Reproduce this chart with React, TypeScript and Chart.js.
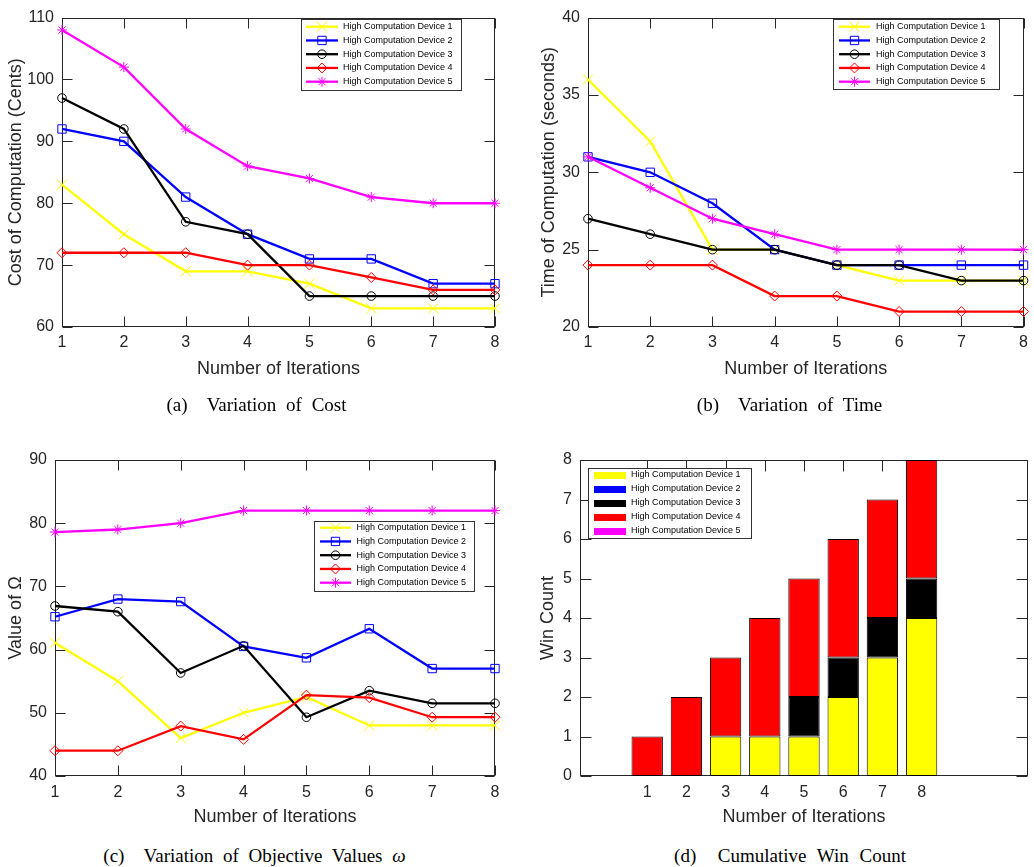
import React, { useEffect, useRef } from 'react';
import { Chart, registerables } from 'chart.js';

Chart.register(...registerables);

// ---------------- DATA ----------------
const ITERATIONS = ['1', '2', '3', '4', '5', '6', '7', '8'];
const DEVICE_NAMES = [
  'High Computation Device 1',
  'High Computation Device 2',
  'High Computation Device 3',
  'High Computation Device 4',
  'High Computation Device 5',
];

// (a) Cost of computation (Cents)
const COST_D1 = [83, 75, 69, 69, 67, 63, 63, 63];
const COST_D2 = [92, 90, 81, 75, 71, 71, 67, 67];
const COST_D3 = [97, 92, 77, 75, 65, 65, 65, 65];
const COST_D4 = [72, 72, 72, 70, 70, 68, 66, 66];
const COST_D5 = [108, 102, 92, 86, 84, 81, 80, 80];
const COST_TICKS = [60, 70, 80, 90, 100, 110];

// (b) Time of computation (seconds)
const TIME_D1 = [36, 32, 25, 25, 24, 23, 23, 23];
const TIME_D2 = [31, 30, 28, 25, 24, 24, 24, 24];
const TIME_D3 = [27, 26, 25, 25, 24, 24, 23, 23];
const TIME_D4 = [24, 24, 24, 22, 22, 21, 21, 21];
const TIME_D5 = [31, 29, 27, 26, 25, 25, 25, 25];
const TIME_TICKS = [20, 25, 30, 35, 40];

// (c) Value of Omega
const OMEGA_D1 = [61.1, 55.0, 46.0, 50.0, 52.5, 48.0, 48.0, 48.0];
const OMEGA_D2 = [65.2, 68.0, 67.6, 60.5, 58.7, 63.3, 57.0, 57.0];
const OMEGA_D3 = [66.9, 66.0, 56.3, 60.6, 49.3, 53.5, 51.5, 51.5];
const OMEGA_D4 = [44.0, 44.0, 47.9, 45.8, 52.8, 52.4, 49.3, 49.3];
const OMEGA_D5 = [78.6, 79.0, 80.0, 82.0, 82.0, 82.0, 82.0, 82.0];
const OMEGA_TICKS = [40, 50, 60, 70, 80, 90];

// (d) Cumulative win count (stacked)
const WIN_X = [1, 2, 3, 4, 5, 6, 7, 8];
const WIN_D1 = [0, 0, 1, 1, 1, 2, 3, 4];
const WIN_D2 = [0, 0, 0, 0, 0, 0, 0, 0];
const WIN_D3 = [0, 0, 0, 0, 1, 1, 1, 1];
const WIN_D4 = [1, 2, 2, 3, 3, 3, 3, 3];
const WIN_D5 = [0, 0, 0, 0, 0, 0, 0, 0];
const WIN_TICKS = [0, 1, 2, 3, 4, 5, 6, 7, 8];
const WIN_X_MIN = 0;
const WIN_X_MAX = 10;

// ---------------- STYLE ----------------
const COLORS = ['#ffff00', '#0000ff', '#000000', '#ff0000', '#ff00ff'];
const MARKERS = ['crossRot', 'rect', 'circle', 'rectRot', 'star'];
const MARKER_R = [7, 5.9, 4.3, 5, 5];
const AXIS_COLOR = '#262626';
const SANS = '"Liberation Sans", Arial, Helvetica, sans-serif';
const SERIF = '"Liberation Serif", "Times New Roman", serif';

function drawMarker(ctx: CanvasRenderingContext2D, style: string, x: number, y: number, r: number) {
  const s = r * Math.SQRT1_2;
  ctx.beginPath();
  switch (style) {
    case 'circle':
      ctx.arc(x, y, r, 0, Math.PI * 2);
      break;
    case 'rect':
      ctx.rect(x - s, y - s, 2 * s, 2 * s);
      break;
    case 'rectRot':
      ctx.moveTo(x - r, y);
      ctx.lineTo(x, y - r);
      ctx.lineTo(x + r, y);
      ctx.lineTo(x, y + r);
      ctx.closePath();
      break;
    case 'crossRot':
      ctx.moveTo(x - s, y - s);
      ctx.lineTo(x + s, y + s);
      ctx.moveTo(x - s, y + s);
      ctx.lineTo(x + s, y - s);
      break;
    case 'star':
      ctx.moveTo(x - r, y);
      ctx.lineTo(x + r, y);
      ctx.moveTo(x, y - r);
      ctx.lineTo(x, y + r);
      ctx.moveTo(x - s, y - s);
      ctx.lineTo(x + s, y + s);
      ctx.moveTo(x - s, y + s);
      ctx.lineTo(x + s, y - s);
      break;
  }
  ctx.stroke();
}

// Matlab-like box with inward ticks on all four sides
function makeAxesPlugin(tickLen: number) {
  return {
    id: 'matlabAxes',
    beforeDatasetsDraw(chart: any) {
      const { ctx, chartArea } = chart;
      const { left, right, top, bottom } = chartArea;
      const L = Math.round(left) + 0.5;
      const R = Math.round(right) - 0.5;
      const T = Math.round(top) + 0.5;
      const B = Math.round(bottom) - 0.5;
      ctx.save();
      ctx.strokeStyle = AXIS_COLOR;
      ctx.lineWidth = 1;
      ctx.beginPath();
      const xs = chart.scales.x;
      xs.ticks.forEach((_t: any, i: number) => {
        const px = Math.round(xs.getPixelForTick(i)) + 0.5;
        ctx.moveTo(px, B);
        ctx.lineTo(px, B - tickLen);
        ctx.moveTo(px, T);
        ctx.lineTo(px, T + tickLen);
      });
      const ys = chart.scales.y;
      ys.ticks.forEach((_t: any, i: number) => {
        const py = Math.round(ys.getPixelForTick(i)) + 0.5;
        ctx.moveTo(L, py);
        ctx.lineTo(L + tickLen, py);
        ctx.moveTo(R, py);
        ctx.lineTo(R - tickLen, py);
      });
      ctx.stroke();
      ctx.strokeRect(L, T, R - L, B - T);
      ctx.restore();
    },
  };
}

interface LegendSpec {
  x: number; y: number; w: number; h: number;
  row0: number; rowStep: number;
  s1: number; s2: number; textX: number;
  patch: boolean;
}

function makeLegendPlugin(spec: LegendSpec) {
  return {
    id: 'matlabLegend',
    afterDraw(chart: any) {
      const ctx: CanvasRenderingContext2D = chart.ctx;
      ctx.save();
      ctx.fillStyle = '#ffffff';
      ctx.fillRect(spec.x, spec.y, spec.w, spec.h);
      ctx.strokeStyle = '#333333';
      ctx.lineWidth = 1;
      ctx.strokeRect(Math.round(spec.x) + 0.5, Math.round(spec.y) + 0.5, Math.round(spec.w), Math.round(spec.h));
      ctx.font = `9px ${SANS}`;
      ctx.textBaseline = 'middle';
      ctx.textAlign = 'left';
      DEVICE_NAMES.forEach((name, i) => {
        const cy = spec.row0 + i * spec.rowStep;
        if (spec.patch) {
          ctx.fillStyle = COLORS[i];
          ctx.fillRect(spec.s1, Math.round(cy - 3.5), spec.s2 - spec.s1, 7);
        } else {
          ctx.strokeStyle = COLORS[i];
          ctx.lineWidth = 2.3;
          ctx.beginPath();
          ctx.moveTo(spec.s1, cy);
          ctx.lineTo(spec.s2, cy);
          ctx.stroke();
          ctx.lineWidth = 1;
          drawMarker(ctx, MARKERS[i], (spec.s1 + spec.s2) / 2, cy, MARKER_R[i]);
        }
        ctx.fillStyle = '#000000';
        ctx.fillText(name, spec.textX, cy);
      });
      ctx.restore();
    },
  };
}

interface Geometry {
  width: number; height: number;
  padTop: number; padRight: number;
  yAxisW: number; xAxisH: number;
  yTitlePad: number; xTitlePad: number;
  xTickPad: number;
}

function commonScales(g: Geometry, yTitle: string, yTicks: number[]) {
  return {
    y: {
      type: 'linear',
      min: yTicks[0],
      max: yTicks[yTicks.length - 1],
      stacked: false,
      afterBuildTicks: (s: any) => {
        s.ticks = yTicks.map((v) => ({ value: v }));
      },
      afterFit: (s: any) => {
        s.width = g.yAxisW;
      },
      grid: { display: false, drawTicks: false },
      border: { display: false },
      ticks: { padding: 8, color: AXIS_COLOR, font: { family: SANS, size: 16 } },
      title: {
        display: true,
        text: yTitle,
        color: AXIS_COLOR,
        font: { family: SANS, size: 18 },
        padding: { top: g.yTitlePad, bottom: 0 },
      },
    },
  };
}

function xAxisCommon(g: Geometry) {
  return {
    afterFit: (s: any) => {
      s.height = g.xAxisH;
    },
    grid: { display: false, drawTicks: false },
    border: { display: false },
    ticks: {
      padding: g.xTickPad,
      color: AXIS_COLOR,
      font: { family: SANS, size: 16 },
      maxRotation: 0,
      autoSkip: false,
    },
    title: {
      display: true,
      text: 'Number of Iterations',
      color: AXIS_COLOR,
      font: { family: SANS, size: 18 },
      padding: { top: 0, bottom: g.xTitlePad },
    },
  };
}

function lineConfig(series: number[][], g: Geometry, yTitle: string, yTicks: number[], legend: LegendSpec): any {
  return {
    type: 'line',
    data: {
      labels: ITERATIONS,
      datasets: series.map((vals, i) => ({
        label: DEVICE_NAMES[i],
        data: vals,
        borderColor: COLORS[i],
        backgroundColor: COLORS[i],
        borderWidth: 2.3,
        pointStyle: MARKERS[i],
        pointRadius: MARKER_R[i],
        pointBorderWidth: 1,
        pointBorderColor: COLORS[i],
        pointBackgroundColor: 'rgba(0,0,0,0)',
        tension: 0,
        fill: false,
        clip: false,
        order: series.length - 1 - i,
      })),
    },
    options: {
      responsive: false,
      animation: false,
      events: [],
      layout: { padding: { left: 0, top: g.padTop, right: g.padRight, bottom: 0 } },
      plugins: { legend: { display: false }, tooltip: { enabled: false } },
      scales: {
        x: { type: 'category', offset: false, ...xAxisCommon(g) },
        ...commonScales(g, yTitle, yTicks),
      },
    },
    plugins: [makeAxesPlugin(10), makeLegendPlugin(legend)],
  };
}

function barConfig(g: Geometry, legend: LegendSpec): any {
  const series = [WIN_D1, WIN_D2, WIN_D3, WIN_D4, WIN_D5];
  const scales: any = commonScales(g, 'Win Count', WIN_TICKS);
  scales.y.stacked = true;
  return {
    type: 'bar',
    data: {
      datasets: series.map((vals, i) => ({
        label: DEVICE_NAMES[i],
        data: vals.map((v, k) => ({ x: WIN_X[k], y: v === 0 ? null : v })),
        backgroundColor: COLORS[i],
        borderColor: '#000000',
        borderWidth: 1,
        borderSkipped: false,
        barPercentage: 0.8,
        categoryPercentage: 1.0,
      })),
    },
    options: {
      responsive: false,
      animation: false,
      events: [],
      layout: { padding: { left: 0, top: g.padTop, right: g.padRight, bottom: 0 } },
      plugins: { legend: { display: false }, tooltip: { enabled: false } },
      scales: {
        x: {
          type: 'linear',
          min: WIN_X_MIN,
          max: WIN_X_MAX,
          stacked: true,
          afterBuildTicks: (s: any) => {
            s.ticks = WIN_X.map((v) => ({ value: v }));
          },
          ...xAxisCommon(g),
        },
        ...scales,
      },
    },
    plugins: [makeAxesPlugin(11), makeLegendPlugin(legend)],
  };
}

function ChartPanel({ left, top, g, build }: { left: number; top: number; g: Geometry; build: () => any }) {
  const ref = useRef<HTMLCanvasElement>(null);
  useEffect(() => {
    const chart = new Chart(ref.current as HTMLCanvasElement, build());
    return () => chart.destroy();
  }, []);
  return (
    <canvas
      ref={ref}
      width={g.width}
      height={g.height}
      style={{ position: 'absolute', left, top, width: g.width, height: g.height }}
    />
  );
}

function Caption({ cx, top, label, wordSpacing, children }: any) {
  return (
    <div
      style={{
        position: 'absolute',
        left: cx - 250,
        top,
        width: 500,
        textAlign: 'center',
        fontFamily: SERIF,
        fontSize: 19,
        lineHeight: '22px',
        whiteSpace: 'pre',
        color: '#000',
        wordSpacing,
      }}
    >
      {label}
      {children}
    </div>
  );
}

const GEO_A: Geometry = { width: 520, height: 400, padTop: 11, padRight: 25, yAxisW: 62, xAxisH: 73, yTitlePad: 5, xTitlePad: 20, xTickPad: 6 };
const GEO_B: Geometry = { width: 514, height: 400, padTop: 11, padRight: 6, yAxisW: 68, xAxisH: 73, yTitlePad: 18, xTitlePad: 20, xTickPad: 6 };
const GEO_C: Geometry = { width: 520, height: 400, padTop: 20, padRight: 25, yAxisW: 55, xAxisH: 64, yTitlePad: 5, xTitlePad: 12, xTickPad: 7 };
const GEO_D: Geometry = { width: 514, height: 400, padTop: 20, padRight: 6, yAxisW: 60, xAxisH: 64, yTitlePad: 17, xTitlePad: 12, xTickPad: 7 };

const LEG_A: LegendSpec = { x: 300.5, y: 19, w: 160, h: 71, row0: 26.7, rowStep: 13.75, s1: 306, s2: 338, textX: 343, patch: false };
const LEG_B: LegendSpec = { x: 313, y: 19, w: 166, h: 70, row0: 26.7, rowStep: 13.75, s1: 319, s2: 350, textX: 356, patch: false };
const LEG_C: LegendSpec = { x: 314, y: 80.5, w: 160, h: 70, row0: 87.7, rowStep: 13.75, s1: 320, s2: 351, textX: 356.5, patch: false };
const LEG_D: LegendSpec = { x: 68, y: 28, w: 163, h: 69.5, row0: 35, rowStep: 14, s1: 74, s2: 106, textX: 111, patch: true };

export default function App() {
  return (
    <div
      style={{
        position: 'absolute',
        left: 0,
        top: 0,
        width: 1034,
        height: 867,
        background: '#ffffff',
        overflow: 'hidden',
      }}
    >
      <ChartPanel
        left={0}
        top={0}
        g={GEO_A}
        build={() =>
          lineConfig([COST_D1, COST_D2, COST_D3, COST_D4, COST_D5], GEO_A, 'Cost of Computation (Cents)', COST_TICKS, LEG_A)
        }
      />
      <ChartPanel
        left={520}
        top={0}
        g={GEO_B}
        build={() =>
          lineConfig([TIME_D1, TIME_D2, TIME_D3, TIME_D4, TIME_D5], GEO_B, 'Time of Computation (seconds)', TIME_TICKS, LEG_B)
        }
      />
      <ChartPanel
        left={0}
        top={440}
        g={GEO_C}
        build={() =>
          lineConfig([OMEGA_D1, OMEGA_D2, OMEGA_D3, OMEGA_D4, OMEGA_D5], GEO_C, 'Value of Ω', OMEGA_TICKS, LEG_C)
        }
      />
      <ChartPanel left={520} top={440} g={GEO_D} build={() => barConfig(GEO_D, LEG_D)} />

      <Caption cx={256.5} top={394} label="(a)  Variation of Cost" wordSpacing="5px" />
      <Caption cx={789.5} top={394} label="(b)  Variation of Time" wordSpacing="5px" />
      <Caption cx={254.5} top={845} label="(c)  Variation of Objective Values " wordSpacing="5px">
        <i>ω</i>
      </Caption>
      <Caption cx={790} top={845} label="(d)  Cumulative Win Count" wordSpacing="6px" />
    </div>
  );
}
